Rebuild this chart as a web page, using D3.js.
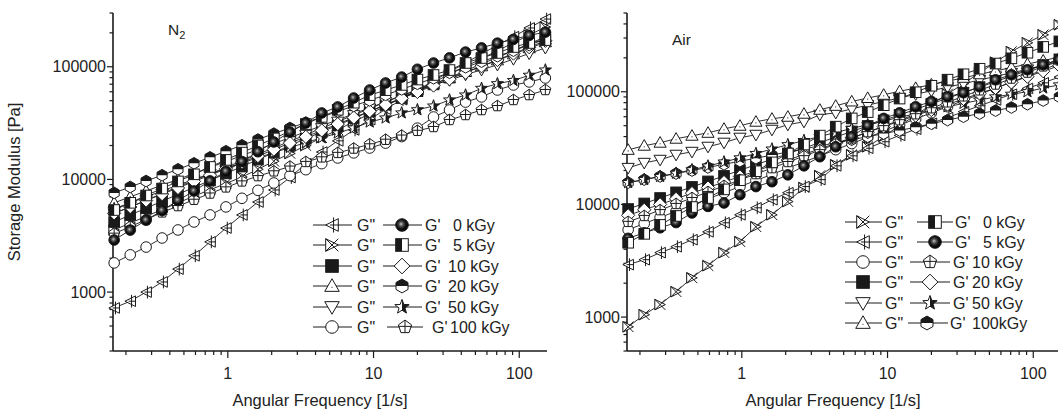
<!DOCTYPE html>
<html>
<head>
<meta charset="utf-8">
<script src="https://cdn.jsdelivr.net/npm/d3@7"></script>
<style>
  body { margin: 0; background: #fff; }
  text { font-family: "Liberation Sans", Arial, sans-serif; fill: #222; }
</style>
</head>
<body>
<div class="chart"></div>
<script>
// Storage / loss modulus vs angular frequency, two panels (N2 and Air)

// angular frequency of each measured point [1/s]
var freq = [0.166, 0.214, 0.275, 0.354, 0.455, 0.586, 0.755, 0.971, 1.25, 1.61, 2.07, 2.67, 3.43, 4.41,
  5.68, 7.31, 9.41, 12.1, 15.6, 20.0, 25.8, 33.2, 42.8, 55.1, 70.8, 91.2, 117, 151];

// ---- N2 panel ----
var n2LossTriLeft = [723, 830, 1000, 1230, 1600, 2100, 2790, 3700, 4840, 6300, 8060, 10400, 13800, 17500,
  22000, 27500, 34000, 42000, 51000, 62000, 75000, 90000, 108000, 130000, 155000, 185000, 221000, 265000];
var n2LossCross = [3560, 4100, 4700, 5400, 6200, 7100, 8100, 9200, 10500, 12300, 14500, 17000, 20000, 23500,
  27600, 32500, 38200, 44900, 52700, 62000, 72800, 85500, 100500, 118000, 139000, 163000, 191000, 225000];
var n2LossSquare = [4190, 4830, 5560, 6400, 7380, 8500, 9790, 11300, 13000, 15000, 17300, 20000, 23000, 26400,
  30300, 34800, 40000, 46000, 52800, 60700, 69700, 80100, 92000, 106000, 121000, 139000, 160000, 184000];
var n2LossTriUp = [6200, 7000, 7900, 8900, 10000, 11300, 12800, 14400, 16300, 18400, 20800, 23500, 26500, 30000,
  33800, 38200, 43200, 48800, 55100, 62300, 70400, 79500, 89800, 101000, 114000, 129000, 146000, 165000];
var n2LossTriDown = [5000, 5700, 6500, 7500, 8600, 9800, 11200, 12800, 14600, 16700, 19100, 21800, 24900, 28500,
  32600, 37200, 42600, 48700, 56000, 62000, 69000, 76000, 85000, 94000, 104000, 117000, 131000, 147000];
var n2LossCircle = [1815, 2140, 2510, 3020, 3560, 4190, 4840, 5700, 6800, 8000, 9300, 10800, 12200, 13800,
  15500, 17200, 19000, 21000, 24000, 28500, 35800, 41300, 48600, 54000, 62200, 68900, 73300, 79500];
var n2StorBall = [2900, 3550, 4350, 5300, 6500, 7900, 9700, 11800, 14400, 17600, 21500, 26300, 31700, 38900,
  44000, 52800, 62200, 71800, 81000, 95000, 108000, 120000, 135000, 147000, 162000, 175000, 190000, 203000];
var n2StorHalfSq = [5350, 6200, 7200, 8300, 9600, 11100, 12900, 14900, 17300, 20000, 23100, 26800, 31000, 35900,
  41500, 48000, 56000, 62000, 69000, 77000, 84500, 93500, 108000, 119600, 132500, 149700, 162500, 172500];
var n2StorDiamond = [5000, 5700, 6500, 7400, 8400, 9600, 10900, 12400, 14200, 16100, 18400, 21000, 23900, 27200,
  31000, 35400, 40300, 46000, 52400, 59700, 68100, 77600, 88500, 101000, 115000, 131000, 149000, 170000];
var n2StorHex = [7590, 8570, 9680, 10900, 12300, 13900, 15700, 17800, 20100, 22600, 25500, 28600, 32000, 35800,
  40100, 44900, 50300, 56300, 63000, 70600, 79000, 88500, 99000, 111000, 124000, 139000, 156000, 175000];
var n2StorStar = [5500, 6200, 7000, 7900, 8900, 10000, 11200, 12500, 14000, 15600, 17300, 19200, 21200, 23400,
  25800, 28600, 32300, 35100, 38900, 41500, 44800, 50700, 56100, 64300, 70700, 75500, 84000, 93500];
var n2StorPenta = [3300, 3800, 4400, 5100, 5800, 6600, 7500, 8500, 9600, 10700, 11800, 13000, 14300, 15700,
  17200, 18800, 20500, 22500, 24500, 27000, 29200, 33700, 37300, 41300, 44800, 50700, 56100, 62200];

// ---- Air panel ----
var airLossCross = [820, 1050, 1290, 1680, 2230, 2860, 3730, 4670, 6340, 8090, 10600, 14100, 18000, 22500,
  27600, 32500, 40300, 50000, 62000, 77000, 95500, 118000, 147000, 183000, 227000, 272000, 320000, 393000];
var airLossTriLeft = [2920, 3230, 3730, 4210, 4860, 5710, 6870, 8090, 9330, 11000, 12700, 14400, 16600, 22000,
  27000, 31500, 36000, 41000, 46500, 52500, 59000, 66500, 75000, 84500, 95000, 107000, 120000, 135000];
var airLossCircle = [5960, 6760, 7660, 8690, 9850, 11200, 12700, 14400, 16300, 18500, 21000, 23800, 27000, 30600,
  34700, 39300, 44600, 50600, 57400, 65000, 73700, 83600, 94800, 107500, 122000, 138000, 157000, 178000];
var airLossSquare = [9100, 10200, 11400, 12800, 14300, 16000, 17900, 20100, 22500, 25200, 28200, 31600, 35400, 39600,
  44400, 49700, 55700, 62300, 69800, 78200, 87600, 98100, 110000, 123000, 138000, 154000, 173000, 194000];
var airLossTriDown = [21100, 23400, 24900, 27600, 29300, 32500, 35300, 39100, 41500, 46000, 51000, 54200, 62500, 65000,
  70500, 76000, 82000, 88000, 95000, 102000, 110000, 118000, 127000, 137000, 147000, 158000, 170000, 183000];
var airLossTriUp = [30500, 33200, 35300, 38300, 40700, 43200, 46900, 49900, 54200, 57600, 60000, 63800, 69200, 75000,
  82000, 88000, 94000, 101000, 108000, 116000, 124000, 133000, 143000, 153000, 164000, 176000, 189000, 203000];
var airStorHalfSq = [4570, 5480, 6580, 7900, 9480, 11400, 13600, 16400, 19700, 23600, 28300, 34000, 40800, 49000,
  58000, 66000, 76000, 87000, 99000, 113000, 128000, 143000, 160000, 178000, 198000, 222000, 250000, 280000];
var airStorBall = [5000, 5600, 6200, 6900, 8400, 9600, 10300, 12200, 14400, 15900, 18300, 22000, 26500, 32500,
  40000, 50000, 58000, 65000, 73600, 82000, 90300, 98000, 110700, 127700, 141500, 156800, 173800, 192300];
var airStorPenta = [7000, 7900, 8900, 10100, 11400, 12900, 14600, 16500, 18600, 21000, 23800, 26800, 30300, 34300,
  38700, 43800, 49500, 55900, 63200, 71400, 80600, 91100, 103000, 116000, 131000, 148000, 168000, 190000];
var airStorDiamond = [8000, 8960, 10000, 11200, 12600, 14100, 15800, 17700, 19800, 22200, 24800, 27800, 31100, 34900,
  39000, 43700, 49000, 54800, 61400, 68800, 77000, 86300, 96600, 108000, 121000, 136000, 152000, 170000];
var airStorStar = [15600, 16600, 17700, 18900, 20300, 21900, 23800, 25900, 28300, 31000, 33900, 36900, 40100, 43500,
  47200, 51000, 55000, 59300, 63800, 68600, 73600, 78800, 84300, 90000, 95000, 100000, 108000, 115000];
var airStorHex = [15600, 16600, 17700, 18800, 20000, 21300, 22700, 24200, 25700, 27400, 29200, 31100, 33100, 35200,
  37500, 39900, 42500, 45300, 48500, 52000, 56000, 60000, 64000, 68000, 72500, 77500, 83500, 90000];

// tick labels and legend text
var xTickLabels = [1, 10, 100];
var yTickLabels = [1000, 10000, 100000];
var n2Doses = ["0 kGy", "5 kGy", "10 kGy", "20 kGy", "50 kGy", "100 kGy"];
var airDoses = ["0 kGy", "5 kGy", "10 kGy", "20 kGy", "50 kGy", "100kGy"];

var svgWidth = 1058;
var svgHeight = 411;

var svg = d3.select(".chart")
  .append("svg")
  .attr("width", svgWidth)
  .attr("height", svgHeight);

svg.append("rect").attr("width", svgWidth).attr("height", svgHeight).attr("fill", "#fff");

var defs = svg.append("defs");
var grad = defs.append("radialGradient")
  .attr("id", "ballGrad")
  .attr("cx", "45%").attr("cy", "45%").attr("r", "55%")
  .attr("fx", "42%").attr("fy", "42%");
grad.append("stop").attr("offset", "0%").attr("stop-color", "#c8c8c8");
grad.append("stop").attr("offset", "30%").attr("stop-color", "#555");
grad.append("stop").attr("offset", "65%").attr("stop-color", "#111");
grad.append("stop").attr("offset", "100%").attr("stop-color", "#000");

defs.append("clipPath")
  .attr("id", "rightHalf")
  .attr("clipPathUnits", "userSpaceOnUse")
  .append("rect").attr("x", 0).attr("y", -20).attr("width", 20).attr("height", 40);

var ink = "#1a1a1a";
var sw = 1;

// draws one marker centred at 0,0 inside g
function drawSymbol(g, type, r) {
  var w, R;
  switch (type) {
    case "triLeftPlus":
      g.append("path").attr("d", `M${-r},0L${r},${-r}L${r},${r}Z`)
        .attr("fill", "#fff").attr("stroke", ink).attr("stroke-width", sw);
      g.append("path").attr("d", `M${r * 0.25},${-r * 1.2}V${r * 1.2}M${-r * 0.3},0H${r * 1.1}`)
        .attr("stroke", ink).attr("stroke-width", sw);
      break;
    case "triRightX":
      g.append("path").attr("d", `M${r},0L${-r},${-r}L${-r},${r}Z`)
        .attr("fill", "#fff").attr("stroke", ink).attr("stroke-width", sw);
      g.append("path").attr("d", `M${-r},${-r}L${r},${r}M${-r},${r}L${r},${-r}`)
        .attr("stroke", ink).attr("stroke-width", sw);
      break;
    case "square":
      g.append("rect").attr("x", -r).attr("y", -r).attr("width", 2 * r).attr("height", 2 * r)
        .attr("fill", ink).attr("stroke", ink).attr("stroke-width", sw);
      break;
    case "triUp":
      g.append("path").attr("d", `M0,${-r * 1.15}L${r * 1.15},${r * 0.85}L${-r * 1.15},${r * 0.85}Z`)
        .attr("fill", "#fff").attr("stroke", ink).attr("stroke-width", sw);
      g.append("circle").attr("cy", r * 0.2).attr("r", 0.6).attr("fill", ink);
      break;
    case "triDown":
      g.append("path").attr("d", `M0,${r * 1.15}L${r * 1.15},${-r * 0.85}L${-r * 1.15},${-r * 0.85}Z`)
        .attr("fill", "#fff").attr("stroke", ink).attr("stroke-width", sw);
      break;
    case "circle":
      g.append("circle").attr("r", r)
        .attr("fill", "#fff").attr("stroke", ink).attr("stroke-width", sw);
      break;
    case "ball":
      g.append("circle").attr("r", r)
        .attr("fill", "url(#ballGrad)").attr("stroke", ink).attr("stroke-width", sw);
      break;
    case "halfSquare":
      g.append("rect").attr("x", -r).attr("y", -r).attr("width", 2 * r).attr("height", 2 * r)
        .attr("fill", "#fff").attr("stroke", ink).attr("stroke-width", sw);
      g.append("rect").attr("x", -r).attr("y", -r).attr("width", r).attr("height", 2 * r)
        .attr("fill", ink);
      break;
    case "diamond":
      g.append("path").attr("d", `M0,${-r * 1.25}L${r * 1.25},0L0,${r * 1.25}L${-r * 1.25},0Z`)
        .attr("fill", "#fff").attr("stroke", ink).attr("stroke-width", sw);
      break;
    case "halfHex":
      R = r * 1.1; w = R * Math.cos(Math.PI / 6);
      g.append("path").attr("d", `M0,${-R}L${w},${-R / 2}L${w},${R / 2}L0,${R}L${-w},${R / 2}L${-w},${-R / 2}Z`)
        .attr("fill", "#fff").attr("stroke", ink).attr("stroke-width", sw);
      g.append("path").attr("d", `M${-w},0L${-w},${-R / 2}L0,${-R}L${w},${-R / 2}L${w},0Z`)
        .attr("fill", ink);
      break;
    case "halfStar":
      var pts = [];
      for (var i = 0; i < 10; i++) {
        var rr = i % 2 === 0 ? r * 1.2 : r * 0.5;
        var a = -Math.PI / 2 + i * Math.PI / 5;
        pts.push([rr * Math.cos(a), rr * Math.sin(a)]);
      }
      var starD = "M" + pts.map(p => p[0].toFixed(2) + "," + p[1].toFixed(2)).join("L") + "Z";
      g.append("path").attr("d", starD).attr("fill", "#fff").attr("stroke", ink).attr("stroke-width", sw);
      g.append("path").attr("d", starD).attr("fill", ink).attr("clip-path", "url(#rightHalf)");
      break;
    case "pentaPlus":
      var pp = [];
      for (var j = 0; j < 5; j++) {
        var b = -Math.PI / 2 + j * 2 * Math.PI / 5;
        pp.push([r * 1.1 * Math.cos(b), r * 1.1 * Math.sin(b)]);
      }
      g.append("path").attr("d", "M" + pp.map(p => p[0].toFixed(2) + "," + p[1].toFixed(2)).join("L") + "Z")
        .attr("fill", "#fff").attr("stroke", ink).attr("stroke-width", sw);
      g.append("path").attr("d", `M0,${-r * 1.1}V${r * 0.9}M${-r * 1.05},${-r * 0.1}H${r * 1.05}`)
        .attr("stroke", ink).attr("stroke-width", sw);
      break;
  }
}

var panels = [
  {
    left: 113, right: 547, top: 13, bottom: 351,
    yDomain: [300, 300000],
    title: "N", sub: "2", titleX: 168, titleY: 35,
    xTitleX: 320,
    series: [
      { v: n2LossTriLeft, sym: "triLeftPlus" },
      { v: n2LossCross, sym: "triRightX" },
      { v: n2LossSquare, sym: "square" },
      { v: n2LossTriUp, sym: "triUp" },
      { v: n2LossTriDown, sym: "triDown" },
      { v: n2LossCircle, sym: "circle" },
      { v: n2StorPenta, sym: "pentaPlus" },
      { v: n2StorStar, sym: "halfStar" },
      { v: n2StorDiamond, sym: "diamond" },
      { v: n2StorHex, sym: "halfHex" },
      { v: n2StorHalfSq, sym: "halfSquare" },
      { v: n2StorBall, sym: "ball" }
    ],
    legend: {
      rows: [225, 245, 266, 286, 307, 327],
      lossSyms: ["triLeftPlus", "triRightX", "square", "triUp", "triDown", "circle"],
      storSyms: ["ball", "halfSquare", "diamond", "halfHex", "halfStar", "pentaPlus"],
      doses: n2Doses,
      lossLine: [313, 352, 332], lossText: 357,
      storLine: [[383, 422, 402], [383, 422, 402], [383, 422, 402], [383, 422, 402], [383, 422, 402], [387, 423, 405]],
      storText: [425, 425, 425, 425, 425, 432],
      doseText: [453, 453, 448, 448, 448, 450]
    }
  },
  {
    left: 627, right: 1061, top: 13, bottom: 351,
    yDomain: [500, 500000],
    title: "Air", sub: null, titleX: 672, titleY: 45,
    xTitleX: 833,
    series: [
      { v: airLossCross, sym: "triRightX" },
      { v: airLossTriLeft, sym: "triLeftPlus" },
      { v: airLossCircle, sym: "circle" },
      { v: airLossSquare, sym: "square" },
      { v: airLossTriDown, sym: "triDown" },
      { v: airLossTriUp, sym: "triUp" },
      { v: airStorHex, sym: "halfHex" },
      { v: airStorStar, sym: "halfStar" },
      { v: airStorDiamond, sym: "diamond" },
      { v: airStorPenta, sym: "pentaPlus" },
      { v: airStorBall, sym: "ball" },
      { v: airStorHalfSq, sym: "halfSquare" }
    ],
    legend: {
      rows: [222, 242, 262, 282, 303, 323],
      lossSyms: ["triRightX", "triLeftPlus", "circle", "square", "triDown", "triUp"],
      storSyms: ["halfSquare", "ball", "pentaPlus", "diamond", "halfStar", "halfHex"],
      doses: airDoses,
      lossLine: [845, 882, 863], lossText: 885,
      storLine: [[917, 953, 935], [917, 953, 935], [910, 950, 930], [910, 950, 930], [910, 950, 930], [908, 948, 927]],
      storText: [955, 955, 953, 953, 953, 950],
      doseText: [983, 983, 972, 972, 972, 972]
    }
  }
];

panels.forEach(function(p) {
  var x = d3.scaleLog().domain([0.163, 155]).range([p.left, p.right]);
  var y = d3.scaleLog().domain(p.yDomain).range([p.bottom, p.top]);
  var g = svg.append("g");

  // axes lines
  g.append("line").attr("x1", p.left).attr("x2", p.left).attr("y1", p.top).attr("y2", p.bottom)
    .attr("stroke", ink).attr("stroke-width", 1.6);
  g.append("line").attr("x1", p.left).attr("x2", p.right).attr("y1", p.bottom).attr("y2", p.bottom)
    .attr("stroke", ink).attr("stroke-width", 1.6);

  // y ticks
  y.ticks().forEach(function(t) {
    var major = Math.abs(Math.log10(t) - Math.round(Math.log10(t))) < 1e-9;
    g.append("line").attr("x1", p.left - (major ? 6 : 3.5)).attr("x2", p.left)
      .attr("y1", y(t)).attr("y2", y(t)).attr("stroke", ink).attr("stroke-width", 1.2);
  });
  yTickLabels.forEach(function(t) {
    g.append("text").attr("x", p.left - 7).attr("y", y(t) + 5.5)
      .attr("text-anchor", "end").attr("font-size", 16).text(t);
  });

  // x ticks
  x.ticks().forEach(function(t) {
    var major = Math.abs(Math.log10(t) - Math.round(Math.log10(t))) < 1e-9;
    g.append("line").attr("x1", x(t)).attr("x2", x(t))
      .attr("y1", p.bottom).attr("y2", p.bottom + (major ? 7 : 4)).attr("stroke", ink).attr("stroke-width", 1.2);
  });
  xTickLabels.forEach(function(t) {
    g.append("text").attr("x", x(t)).attr("y", p.bottom + 28)
      .attr("text-anchor", "middle").attr("font-size", 16).text(t);
  });

  g.append("text").attr("x", p.xTitleX).attr("y", 406)
    .attr("text-anchor", "middle").attr("font-size", 16.5).text("Angular Frequency [1/s]");

  // panel title
  var tt = g.append("text").attr("x", p.titleX).attr("y", p.titleY).attr("font-size", 15.5).text(p.title);
  if (p.sub) tt.append("tspan").attr("font-size", 11).attr("dy", 4).text(p.sub);

  // lines
  var line = d3.line().x((d, i) => x(freq[i])).y(d => y(d));
  p.series.forEach(function(s) {
    g.append("path").attr("d", line(s.v)).attr("fill", "none")
      .attr("stroke", ink).attr("stroke-width", 0.9);
  });

  // markers
  p.series.forEach(function(s) {
    g.selectAll(null).data(s.v).enter().append("g")
      .attr("transform", (d, i) => `translate(${x(freq[i])},${y(d)})`)
      .each(function() { drawSymbol(d3.select(this), s.sym, 5.3); });
  });

  // legend
  var L = p.legend;
  L.rows.forEach(function(ry, i) {
    g.append("line").attr("x1", L.lossLine[0]).attr("x2", L.lossLine[1]).attr("y1", ry).attr("y2", ry)
      .attr("stroke", ink).attr("stroke-width", 1);
    drawSymbol(g.append("g").attr("transform", `translate(${L.lossLine[2]},${ry})`), L.lossSyms[i], 6.3);
    g.append("text").attr("x", L.lossText).attr("y", ry + 6).attr("font-size", 16).text('G"');

    var sl = L.storLine[i];
    g.append("line").attr("x1", sl[0]).attr("x2", sl[1]).attr("y1", ry).attr("y2", ry)
      .attr("stroke", ink).attr("stroke-width", 1);
    drawSymbol(g.append("g").attr("transform", `translate(${sl[2]},${ry})`), L.storSyms[i], 6.3);
    g.append("text").attr("x", L.storText[i]).attr("y", ry + 6).attr("font-size", 16).text("G'");
    g.append("text").attr("x", L.doseText[i]).attr("y", ry + 6).attr("font-size", 16).text(L.doses[i]);
  });
});

// y axis title (left panel only)
svg.append("text")
  .attr("transform", "translate(20, 182) rotate(-90)")
  .attr("text-anchor", "middle")
  .attr("font-size", 16.5)
  .text("Storage Modulus [Pa]");
</script>
</body>
</html>
